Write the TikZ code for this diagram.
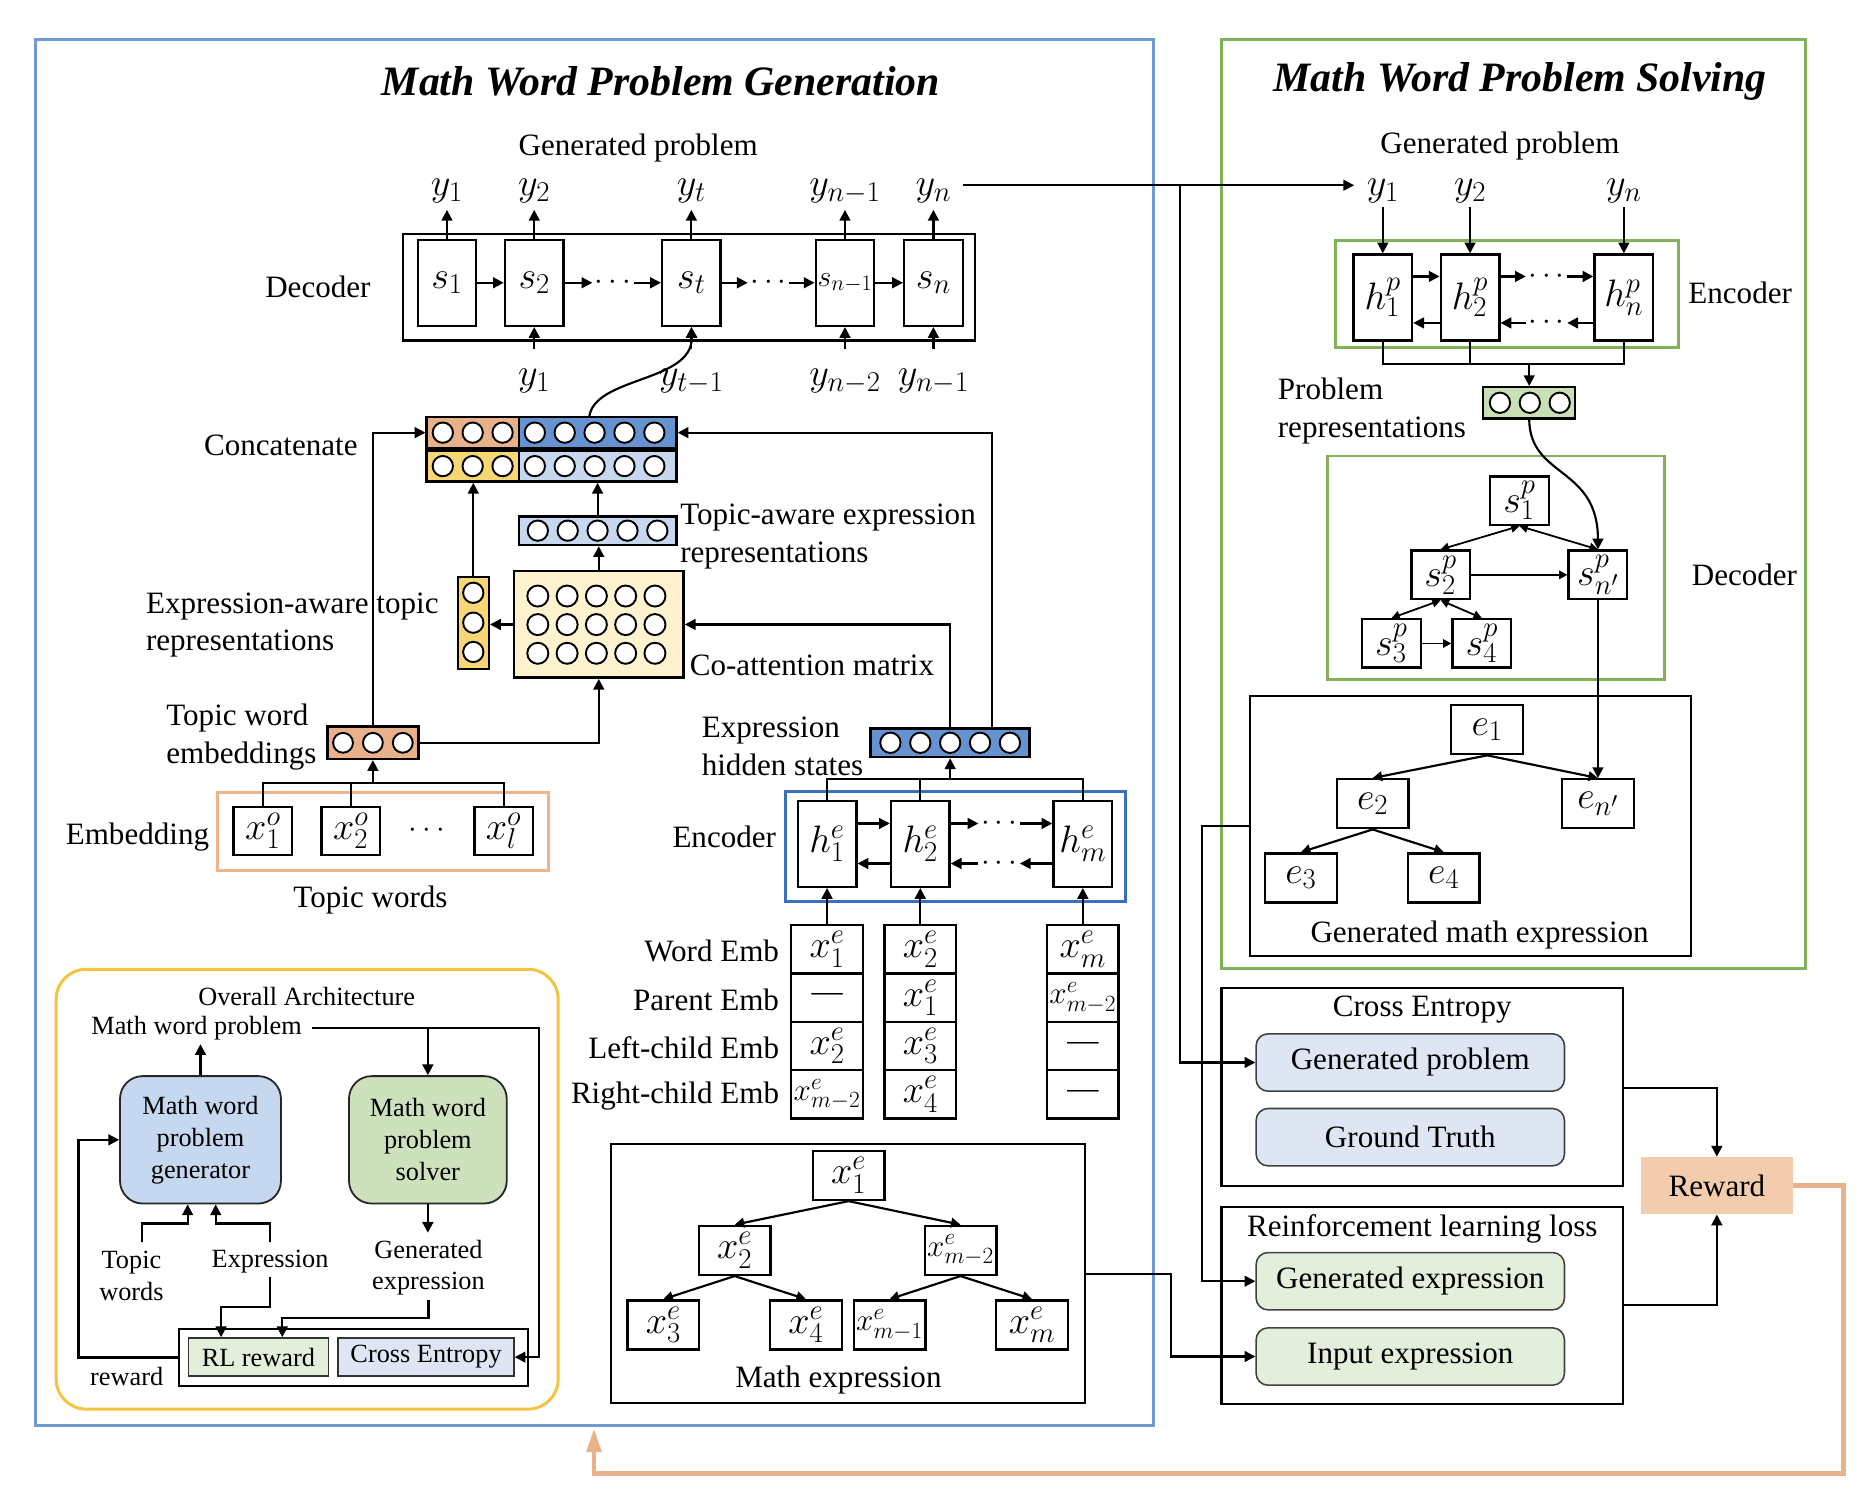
\RequirePackage{fix-cm}
\documentclass[tikz,border=0pt]{standalone}
\usepackage{fontspec}
\setmainfont{Liberation Serif}
\usetikzlibrary{arrows.meta,calc}
\DeclareMathSizes{32}{32}{24}{18}
\DeclareMathSizes{26}{26}{19.5}{14}
\DeclareMathSizes{25}{25}{18.5}{14}
\newcommand\fmain{\fontsize{26}{31.5}\selectfont}
\newcommand\fmath{\fontsize{32}{36}\selectfont}
\newcommand\fmathn{\fontsize{26}{31}\selectfont}
\newcommand\fmaths{\fontsize{25}{30}\selectfont}
\newcommand\fttl{\fontsize{35}{40}\selectfont\bfseries\itshape}
\newcommand\fsm{\fontsize{22}{26.7}\selectfont}
\definecolor{frblue}{HTML}{6F9BD4}
\definecolor{frgreen}{HTML}{80B25A}
\definecolor{frorange}{HTML}{EDB589}
\definecolor{fryellow}{HTML}{F4C43E}
\definecolor{encblue}{HTML}{3C70BF}
\definecolor{forange}{HTML}{E8B189}
\definecolor{fdblue}{HTML}{6592D0}
\definecolor{fyellow}{HTML}{F6D774}
\definecolor{flblue}{HTML}{C6D7EE}
\definecolor{fcream}{HTML}{FEF3CE}
\definecolor{fpgreen}{HTML}{C9DFB6}
\definecolor{fcebox}{HTML}{DEE6F4}
\definecolor{frlbox}{HTML}{E3EFDA}
\definecolor{freward}{HTML}{F2CCAC}
\definecolor{fgen}{HTML}{C6D8EF}
\definecolor{fsol}{HTML}{CDE2BC}
\definecolor{orline}{HTML}{E8B38A}
\begin{document}
\begin{tikzpicture}[x=1pt,y=-1pt,
  bx/.style={draw, line width=2pt, fill=white, inner sep=0pt, font=\fmath},
  cell/.style={bx, minimum width=49pt, minimum height=72pt},
  tnode/.style={bx, minimum width=60pt, minimum height=41pt},
  scell/.style={bx, minimum width=49pt, minimum height=40.5pt},
  ecell/.style={bx, minimum width=60pt, minimum height=40.5pt},
  lab/.style={font=\fmain, inner sep=0pt, align=left},
  mlab/.style={font=\fmath, inner sep=0pt},
  slab/.style={font=\fsm, inner sep=0pt, align=center},
  dots/.style={font=\fmain, inner sep=2pt},
  ln/.style={line width=1.8pt},
  arr/.style={line width=1.8pt, -{Triangle[length=9pt,width=9pt]}},
  tarr/.style={line width=1.8pt, -{Triangle[length=8pt,width=8pt]}},
  sarr/.style={line width=1.5pt, -{Triangle[length=7pt,width=7pt]}},
  darr/.style={line width=1.5pt, {Triangle[length=7pt,width=7pt]}-{Triangle[length=7pt,width=7pt]}},
  vecbox/.style={draw, line width=2pt, inner sep=0pt},
  bead/.style={draw, line width=1.6pt, fill=white},
  rbox/.style={draw=black!75, line width=1.3pt, rounded corners=10pt, minimum width=258pt, minimum height=48pt, font=\fmain, inner sep=0pt},
]
\useasboundingbox (0,0) rectangle (1568,1260);

% ===== frames and titles
\draw[frblue, line width=2.5pt] (30,33) rectangle (965,1193);
\draw[frgreen, line width=2.5pt] (1022,33) rectangle (1511,810);
\node[font=\fttl] (tgen) at (553,68) {Math Word Problem Generation};
\node[font=\fttl] (tsol) at (1272,68) {Math Word Problem Solving};

% ===== generation decoder
\node[lab] (gplab) at (534,124) {Generated problem};
\node[draw, line width=2pt, minimum width=479pt, minimum height=89pt] (decf) at (576.5,240.5) {};
\node[lab] (declab) at (266,240) {Decoder};
\node[cell] (s1) at (374,236.6) {$s_1$};
\node[cell] (s2) at (447,236.6) {$s_2$};
\node[cell] (st) at (578.5,236.6) {$s_t$};
\node[cell, font=\fmaths] (sn1) at (707,236.6) {$s_{n-1}$};
\node[cell] (sn) at (781,236.6) {$s_n$};
\node[dots] (dd1) at (513,236.6) {$\cdots$};
\node[dots] (dd2) at (643,236.6) {$\cdots$};
\draw[arr] (s1.east) -- (s2.west);
\draw[arr] (s2.east) -- (dd1.west);
\draw[arr] (dd1.east) -- (st.west);
\draw[arr] (st.east) -- (dd2.west);
\draw[arr] (dd2.east) -- (sn1.west);
\draw[arr] (sn1.east) -- (sn.west);
\node[mlab] (gy1) at (374,160) {$y_1$};
\node[mlab] (gy2) at (447,160) {$y_2$};
\node[mlab] (gyt) at (578.5,160) {$y_t$};
\node[mlab] (gy4) at (707,160) {$y_{n-1}$};
\node[mlab] (gy5) at (781,160) {$y_n$};
\foreach \c in {s1,s2,st,sn1,sn} {\draw[arr] (\c.north) -- ++(0,-24);}
\node[mlab] (gb2) at (447,319) {$y_1$};
\node[mlab] (gbt) at (578.5,319) {$y_{t-1}$};
\node[mlab] (gb4) at (707,319) {$y_{n-2}$};
\node[mlab] (gb5) at (781,319) {$y_{n-1}$};
\foreach \c in {s2,st,sn1,sn} {\draw[arr] ($(\c.south)+(0,18.5)$) -- (\c.south);}

% ===== concatenate
\node[vecbox, fill=forange, minimum width=77pt, minimum height=26pt] (ctl) at (395.5,362) {};
\node[vecbox, fill=fdblue, minimum width=132pt, minimum height=26pt] (ctr) at (500,362) {};
\node[vecbox, fill=fyellow, minimum width=77pt, minimum height=26pt] (cbl) at (395.5,390) {};
\node[vecbox, fill=flblue, minimum width=132pt, minimum height=26pt] (cbr) at (500,390) {};
\foreach \x in {370.5,395.5,420.5} {\draw[bead] (\x,362) circle[radius=8.5pt]; \draw[bead] (\x,390) circle[radius=8.5pt];}
\foreach \x in {447.5,472.5,497.5,522.5,547.5} {\draw[bead] (\x,362) circle[radius=8.5pt]; \draw[bead] (\x,390) circle[radius=8.5pt];}
\node[lab] (conc) at (235,373) {Concatenate};
\coordinate (cup) at (493,349);
\draw[arr] (cup) .. controls (497,315) and (580,320) .. (st.south);

% topic-aware expression
\node[vecbox, fill=flblue, minimum width=132pt, minimum height=24pt] (ta) at (500,444) {};
\foreach \x in {450,475,500,525,550} {\draw[bead] (\x,444) circle[radius=8.5pt];}
\node[lab, anchor=west] (talab) at (569,449) {Topic-aware expression\\representations};

% co-attention
\node[vecbox, fill=fcream, minimum width=142pt, minimum height=89pt] (co) at (501,522.5) {};
\foreach \x in {450,474.5,499,523.5,548} {\foreach \y in {498.7,522.6,546.6} {\draw[bead] (\x,\y) circle[radius=8.8pt];}}
\node[lab, anchor=west] (colab) at (577,557) {Co-attention matrix};

% expression-aware topic
\node[vecbox, fill=fyellow, minimum width=26pt, minimum height=77pt] (ea) at (396,521.5) {};
\foreach \y in {496,521,545.5} {\draw[bead] (396,\y) circle[radius=8.5pt];}
\node[lab, anchor=west] (ealab) at (122,523) {Expression-aware topic\\representations};

% topic word embeddings
\node[vecbox, fill=forange, minimum width=76pt, minimum height=27pt] (te) at (312,621.5) {};
\foreach \x in {287,312,337} {\draw[bead] (\x,621.5) circle[radius=8.3pt];}
\node[lab, anchor=west] (telab) at (139,616.5) {Topic word\\embeddings};

% embedding of topic words
\node[draw=frorange, line width=2.5pt, minimum width=277pt, minimum height=65pt] (embf) at (320.5,695.5) {};
\node[scell] (xo1) at (220,695.3) {$x^o_1$};
\node[scell] (xo2) at (293.5,695.3) {$x^o_2$};
\node[scell] (xol) at (421.4,695.3) {$x^o_l$};
\node[dots] (xod) at (357,695.3) {$\cdots$};
\node[lab] (emblab) at (115,700) {Embedding};
\node[lab] (twlab) at (310,753) {Topic words};
\coordinate (tjoin) at (312,655);
\draw[ln] (xo1.north) |- (tjoin) -| (xol.north);
\draw[ln] (xo2.north) -- (xo2.north |- tjoin);
\draw[arr] (tjoin) -- (te.south);
\draw[arr] (te.north) |- (ctl.west);
\draw[arr] (te.east) -| (co.south);
\draw[arr] (ea.north) -- (ea.north |- cbl.south);
\draw[arr] (co.west) -- (co.west -| ea.east);
\draw[arr] (co.north) -- (co.north |- ta.south);
\draw[arr] (ta.north) -- (ta.north |- cbr.south);

% expression hidden states
\node[vecbox, fill=fdblue, minimum width=133pt, minimum height=24pt] (hs) at (795,621.5) {};
\foreach \x in {745,770,795,820,845} {\draw[bead] (\x,621.5) circle[radius=8.5pt];}
\node[lab, anchor=west] (hslab) at (587,624.5) {Expression\\hidden states};
\draw[arr] (hs.north) |- (co.east);
\draw[arr] ([xshift=35pt]hs.north) |- (ctr.east);

% expression encoder
\node[draw=encblue, line width=2.5pt, minimum width=285pt, minimum height=92pt] (encf) at (799.5,708) {};
\node[lab] (enclab) at (606,700) {Encoder};
\node[cell] (h1) at (692,706) {$h^e_1$};
\node[cell] (h2) at (770,706) {$h^e_2$};
\node[cell] (hm) at (906,706) {$h^e_m$};
\node[dots] (ed1) at (836,689) {$\cdots$};
\node[dots] (ed2) at (836,722.5) {$\cdots$};
\draw[arr] (h1.east |- ed1) -- (h2.west |- ed1);
\draw[arr] (h2.east |- ed1) -- (ed1.west);
\draw[arr] (ed1.east) -- (hm.west |- ed1);
\draw[arr] (hm.west |- ed2) -- (ed2.east);
\draw[arr] (ed2.west) -- (h2.east |- ed2);
\draw[arr] (h2.west |- ed2) -- (h1.east |- ed2);
\coordinate (hjoin) at (795,652);
\draw[ln] (h1.north) |- (hjoin) -| (hm.north);
\draw[ln] (h2.north) -- (h2.north |- hjoin);
\draw[arr] (hjoin) -- (hs.south);

% embedding stacks
\node[ecell] (a1) at (692,794.25) {$x^e_1$};
\node[ecell, font=\fmain] (a2) at (692,834.75) {---};
\node[ecell] (a3) at (692,875.25) {$x^e_2$};
\node[ecell, font=\fmathn] (a4) at (692,915.75) {$x^e_{m-2}$};
\node[ecell] (b1) at (770,794.25) {$x^e_2$};
\node[ecell] (b2) at (770,834.75) {$x^e_1$};
\node[ecell] (b3) at (770,875.25) {$x^e_3$};
\node[ecell] (b4) at (770,915.75) {$x^e_4$};
\node[ecell] (c1) at (906,794.25) {$x^e_m$};
\node[ecell, font=\fmathn] (c2) at (906,834.75) {$x^e_{m-2}$};
\node[ecell, font=\fmain] (c3) at (906,875.25) {---};
\node[ecell, font=\fmain] (c4) at (906,915.75) {---};
\draw[arr] (a1.north) -- (h1.south);
\draw[arr] (b1.north) -- (h2.south);
\draw[arr] (c1.north) -- (hm.south);
\node[lab, anchor=east] (rw1) at (652,796) {Word Emb};
\node[lab, anchor=east] (rw2) at (652,837) {Parent Emb};
\node[lab, anchor=east] (rw3) at (652,877) {Left-child Emb};
\node[lab, anchor=east] (rw4) at (652,917) {Right-child Emb};

% math expression tree
\node[draw, line width=2pt, minimum width=397pt, minimum height=217pt] (mef) at (709.5,1065.5) {};
\node[tnode] (mx1) at (710,983.5) {$x^e_1$};
\node[tnode] (mx2) at (614.7,1046.2) {$x^e_2$};
\node[tnode, font=\fmathn] (mxm2) at (803.7,1046.2) {$x^e_{m-2}$};
\node[tnode] (mx3) at (555,1108.5) {$x^e_3$};
\node[tnode] (mx4) at (674.3,1108.5) {$x^e_4$};
\node[tnode, font=\fmathn] (mxm1) at (744.3,1108.5) {$x^e_{m-1}$};
\node[tnode] (mxm) at (863.5,1108.5) {$x^e_m$};
\node[lab] (melab) at (701.5,1155) {Math expression};
\draw[tarr] (mx1.south) -- (mx2.north);
\draw[tarr] (mx1.south) -- (mxm2.north);
\draw[tarr] (mx2.south) -- (mx3.north);
\draw[tarr] (mx2.south) -- (mx4.north);
\draw[tarr] (mxm2.south) -- (mxm1.north);
\draw[tarr] (mxm2.south) -- (mxm.north);

% ===== overall architecture inset
\draw[fryellow, line width=2.5pt, rounded corners=25pt] (47,811) rectangle (467,1179);
\node[slab] (oalab) at (256.6,834) {Overall Architecture};
\node[slab] (mwp) at (164.5,860.5) {Math word problem};
\node[draw=black!85, line width=1.5pt, fill=fgen, rounded corners=19pt, minimum width=134.7pt, minimum height=106.6pt, font=\fsm, align=center, inner sep=0pt] (gen) at (167.75,953.7) {Math word\\problem\\generator};
\node[draw=black!85, line width=1.5pt, fill=fsol, rounded corners=19pt, minimum width=132pt, minimum height=106.6pt, font=\fsm, align=center, inner sep=0pt] (sol) at (358,953.7) {Math word\\problem\\solver};
\node[draw, line width=1.4pt, minimum width=291.6pt, minimum height=47.6pt] (cont) at (295.8,1135.8) {};
\node[draw=black!80, line width=1.3pt, fill=frlbox, minimum width=117pt, minimum height=32pt, font=\fsm, inner sep=0pt] (rls) at (216.2,1135.5) {RL reward};
\node[draw=black!80, line width=1.3pt, fill=fcebox, minimum width=147pt, minimum height=32pt, font=\fsm, inner sep=0pt] (ces) at (356.5,1135.5) {Cross Entropy};
\node[slab] (gexl) at (358.5,1060.7) {Generated\\expression};
\node[slab] (twl) at (110,1067.7) {Topic\\words};
\node[slab] (exl) at (226,1055.8) {Expression};
\node[slab] (rwl) at (106,1152) {reward};
\coordinate (mwr) at (260.8,860);
\coordinate (ge1) at (358.5,1088);
\coordinate (tw1) at (119,1039);
\coordinate (ex1) at (226,1039);
\coordinate (ex2) at (226,1068.4);
\draw[arr] (gen.north) -- ++(0,-26);
\draw[arr] (mwr) -- ++(190.2,0) |- (ces.east);
\draw[arr] (sol.north |- mwr) -- (sol.north);
\draw[arr] (sol.south) -- ++(0,23.7);
\draw[arr] (ge1) -- ++(0,15) -| ([xshift=20pt]rls.north);
\draw[arr] (tw1) -- ++(0,-15.3) -| ([xshift=-10.75pt]gen.south);
\draw[arr] (ex1) -- ++(0,-15.3) -| ([xshift=12.75pt]gen.south);
\draw[arr] (ex2) -- ++(0,25.1) -| ([xshift=-31.2pt]rls.north);
\draw[arr] (cont.west) -- ++(-83.6,0) |- (gen.west);

% ===== solving: encoder
\node[lab] (gplab2) at (1255,122) {Generated problem};
\node[mlab] (yp1) at (1157,160) {$y_1$};
\node[mlab] (yp2) at (1230,160) {$y_2$};
\node[mlab] (ypn) at (1358.7,160) {$y_n$};
\coordinate (gout) at (806,155);
\coordinate (gin) at (1133,155);
\draw[arr] (gout) -- (gin);
\node[draw=frgreen, line width=2.2pt, minimum width=287pt, minimum height=89.6pt] (pencf) at (1261,246.2) {};
\node[lab] (penclab) at (1456,245) {Encoder};
\node[cell] (hp1) at (1157,249) {$h^p_1$};
\node[cell] (hp2) at (1230,249) {$h^p_2$};
\node[cell] (hpn) at (1358.7,249) {$h^p_n$};
\node[dots] (pd1) at (1294,231.3) {$\cdots$};
\node[dots] (pd2) at (1294,270.2) {$\cdots$};
\draw[arr] (hp1.east |- pd1) -- (hp2.west |- pd1);
\draw[arr] (hp2.east |- pd1) -- (pd1.west);
\draw[arr] (pd1.east) -- (hpn.west |- pd1);
\draw[arr] (hpn.west |- pd2) -- (pd2.east);
\draw[arr] (pd2.west) -- (hp2.east |- pd2);
\draw[arr] (hp2.west |- pd2) -- (hp1.east |- pd2);
\foreach \c in {hp1,hp2,hpn} {\draw[arr] ($(\c.north)+(0,-38.4)$) -- (\c.north);}
\coordinate (pjoin) at (1279.5,304.6);
\draw[ln] (hp1.south) |- (pjoin) -| (hpn.south);
\draw[ln] (hp2.south) -- (hp2.south |- pjoin);
\node[vecbox, fill=fpgreen, minimum width=77pt, minimum height=26pt] (pr) at (1279.5,337) {};
\foreach \x in {1255,1280,1305} {\draw[bead] (\x,337) circle[radius=8.5pt];}
\draw[arr] (pjoin) -- (pr.north);
\node[lab, anchor=west] (prlab) at (1069,344) {Problem\\representations};

% solving: decoder
\node[draw=frgreen, line width=2.2pt, minimum width=282pt, minimum height=187pt] (pdecf) at (1251.5,475) {};
\node[lab] (pdeclab) at (1459.6,480.8) {Decoder};
\node[scell] (sp1) at (1271.3,418.9) {$s^p_1$};
\node[scell] (sp2) at (1205.4,481) {$s^p_2$};
\node[scell] (spn) at (1337,481) {$s^p_{n'}$};
\node[scell] (sp3) at (1164.2,538.4) {$s^p_3$};
\node[scell] (sp4) at (1239.9,538.4) {$s^p_4$};
\draw[darr] (sp1.south) -- (sp2.north);
\draw[darr] (sp1.south) -- (spn.north);
\draw[darr] (sp2.south) -- (sp3.north);
\draw[darr] (sp2.south) -- (sp4.north);
\draw[sarr] (sp2.east) -- (spn.west);
\draw[sarr] (sp3.east) -- (sp4.west);
\draw[arr] (pr.south) .. controls (1280,400) and (1337,390) .. (spn.north);

% generated math expression
\node[draw, line width=2pt, minimum width=369pt, minimum height=217.6pt] (gmef) at (1230.5,691.2) {};
\node[tnode] (e1) at (1244.3,610.5) {$e_1$};
\node[tnode] (e2) at (1148.5,672.5) {$e_2$};
\node[tnode] (en) at (1337,672.5) {$e_{n'}$};
\node[tnode] (e3) at (1088.5,734.5) {$e_3$};
\node[tnode] (e4) at (1208,734.5) {$e_4$};
\node[lab] (gmelab) at (1238,782.5) {Generated math expression};
\draw[tarr] (e1.south) -- (e2.north);
\draw[tarr] (e1.south) -- (en.north);
\draw[tarr] (e2.south) -- (e3.north);
\draw[tarr] (e2.south) -- (e4.north);
\draw[arr] (spn.south) -- (en.north);

% ===== losses
\node[draw, line width=1.8pt, minimum width=336pt, minimum height=165pt] (cef) at (1190,909.5) {};
\node[lab] (celab) at (1190,845) {Cross Entropy};
\node[rbox, fill=fcebox] (gp) at (1180,889) {Generated problem};
\node[rbox, fill=fcebox] (gt) at (1180,951.5) {Ground Truth};
\node[draw, line width=1.8pt, minimum width=336pt, minimum height=165pt] (rlf) at (1190,1092.5) {};
\node[lab] (rllab) at (1190,1028) {Reinforcement learning loss};
\node[rbox, fill=frlbox] (ge) at (1180,1072) {Generated expression};
\node[rbox, fill=frlbox] (ie) at (1180,1135) {Input expression};
\node[fill=freward, minimum width=127pt, minimum height=48pt, font=\fmain, inner sep=0pt] (rwd) at (1436.5,992) {Reward};

\coordinate (br) at (987,155);
\draw[arr] (br) |- (gp.west);
\coordinate (gm1) at (1046,691);
\draw[arr] (gm1) -- ++(-40,0) |- (ge.west);
\coordinate (me1) at (908,1066);
\draw[arr] (me1) -- ++(72,0) |- (ie.west);
\coordinate (ce1) at (1358,910);
\draw[arr] (ce1) -| (rwd.north);
\coordinate (rl1) at (1358,1092);
\draw[arr] (rl1) -| (rwd.south);
\coordinate (fb) at (497,1195);
\draw[orline, line width=4pt, -{Triangle[length=20pt,width=12pt]}] (rwd.east) -- ++(42,0) -- ++(0,241) -| (fb);
\end{tikzpicture}
\end{document}
